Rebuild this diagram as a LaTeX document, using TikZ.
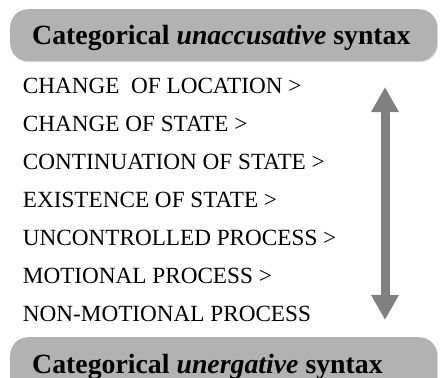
\documentclass[tikz,border=0pt]{standalone}
\usepackage{fontspec}
\setmainfont{Liberation Serif}
\usetikzlibrary{arrows.meta,shadows}
\definecolor{boxgray}{RGB}{178,178,178}
\definecolor{arrowgray}{RGB}{128,128,128}
\begin{document}
\begin{tikzpicture}[x=1pt,y=-1pt,
  hdrbox/.style={fill=boxgray, rounded corners=18pt, draw=none, inner sep=0pt, anchor=north west,
    drop shadow={opacity=0.25, shadow xshift=0.8pt, shadow yshift=-1.2pt}},
  hdrtext/.style={anchor=base west, inner sep=0pt, font=\fontsize{27.8}{30}\selectfont\bfseries},
  item/.style={anchor=base west, inner sep=0pt, font=\fontsize{23.2}{25}\selectfont},
  scalearrow/.style={draw=arrowgray, line width=9pt, {Triangle[width=26pt,length=25pt]}-{Triangle[width=26pt,length=25pt]}}
]
\useasboundingbox (0,0) rectangle (440,378);
\clip (0,0) rectangle (440,378);
\node[hdrbox, minimum width=427pt, minimum height=52pt] (topbox) at (10,9) {};
\node[hdrtext] (toptext) at (32,44) {Categorical \textit{unaccusative} syntax};
\node[hdrbox, minimum width=427pt, minimum height=60pt] (botbox) at (10,337) {};
\node[hdrtext] (bottext) at (32,373) {Categorical \textit{unergative} syntax};
\node[item] (i1) at (22.7,93) {CHANGE\ \ OF LOCATION >};
\node[item] (i2) at (22.7,131) {CHANGE OF STATE >};
\node[item] (i3) at (22.7,169) {CONTINUATION OF STATE >};
\node[item] (i4) at (22.7,207) {EXISTENCE OF STATE >};
\node[item] (i5) at (22.7,245) {UNCONTROLLED PROCESS >};
\node[item] (i6) at (22.7,283) {MOTIONAL PROCESS >};
\node[item] (i7) at (22.7,321) {NON-MOTIONAL PROCESS};
\coordinate (atop) at (385,87);
\coordinate (abot) at (385,320);
\draw[scalearrow] (atop) -- (abot);
\end{tikzpicture}
\end{document}
